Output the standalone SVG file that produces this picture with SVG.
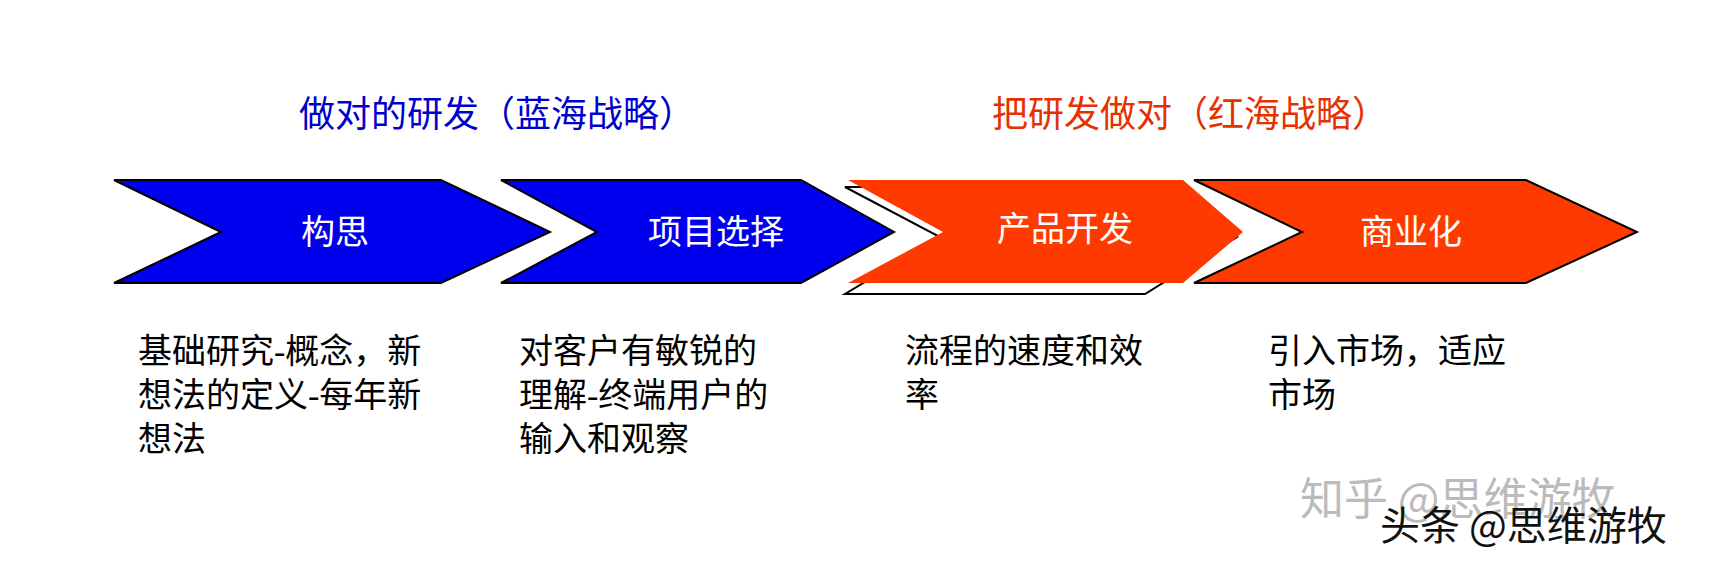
<svg xmlns="http://www.w3.org/2000/svg" width="1709" height="563" viewBox="0 0 1709 563">
<style>
.t{font-family:"Liberation Serif","Noto Sans CJK SC",serif;font-size:34px}
.h{font-family:"Liberation Serif","Noto Sans CJK SC",serif;font-size:36px}
.w{fill:#fff;text-anchor:middle;font-family:"Liberation Serif","Noto Sans CJK SC",serif;font-size:34px}
.b{fill:#0000ee;stroke:#000;stroke-width:2}
.r{fill:#ff3a00;stroke:#000;stroke-width:2}
</style>
<rect width="1709" height="563" fill="#fff"/>
<text class="h" x="299" y="127" fill="#0000cc">做对的研发（蓝海战略）</text>
<text class="h" x="992" y="127" fill="#e63000">把研发做对（红海战略）</text>
<g id="n1"><polygon class="b" points="114,180 441,180 550,232 441,283 114,283 221,232"/><text class="w" x="335" y="244">构思</text></g>
<g id="n2"><polygon class="b" points="501,180 801,180 894,232 801,283 501,283 597,232"/><text class="w" x="716" y="244">项目选择</text></g>
<g id="n3"><polygon points="845,187 1145,187 1237,237 1145,294 845,294 940,237" fill="none" stroke="#000" stroke-width="2"/><polygon points="848,180 1183,180 1243,232 1183,283 848,283 943,232" fill="#ff3a00"/><text class="w" x="1065" y="241">产品开发</text></g>
<g id="n4"><polygon class="r" points="1194,180 1526,180 1637,232 1526,283 1194,283 1302,232"/><text class="w" x="1411" y="244">商业化</text></g>
<g id="d1" class="t"><text x="138" y="363">基础研究-概念，新</text><text x="138" y="407">想法的定义-每年新</text><text x="138" y="451">想法</text></g>
<g id="d2" class="t"><text x="519" y="363">对客户有敏锐的</text><text x="519" y="407">理解-终端用户的</text><text x="519" y="451">输入和观察</text></g>
<g id="d3" class="t"><text x="905" y="363">流程的速度和效</text><text x="905" y="407">率</text></g>
<g id="d4" class="t"><text x="1268" y="363">引入市场，适应</text><text x="1268" y="407">市场</text></g>
<g id="wm" font-family="'Noto Sans CJK SC',sans-serif">
<text x="1300" y="515" font-size="44" fill="#bbb">知乎 @思维游牧</text>
<text x="1380" y="540" font-size="40" fill="#111">头条 @思维游牧</text>
</g>
<g id="connectors"/>
</svg>
